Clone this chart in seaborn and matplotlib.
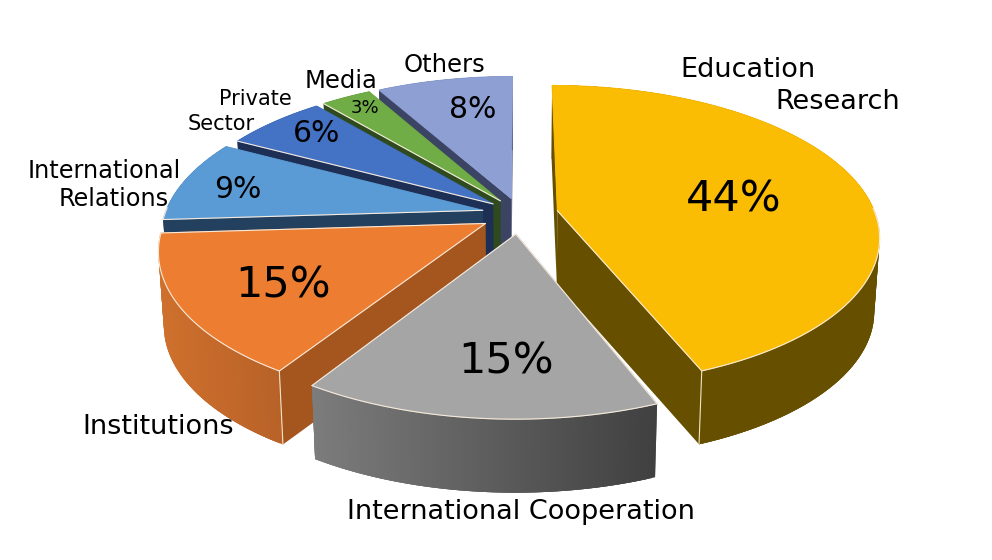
# 3D style exploded pie chart, drawn by hand because matplotlib has no 3D pie
import numpy as np
import matplotlib
matplotlib.use("Agg")
import matplotlib.pyplot as plt
from matplotlib.patches import Polygon
import seaborn as sns

# DATA
categories = ["Education\nResearch", "International Cooperation", "Institutions",
              "International\nRelations", "Private\nSector", "Media", "Others"]
shares = [44, 15, 15, 8.8, 6.1, 3, 8.1]

# colours of the top face and of the straight side faces
top_colors = ["#FBBC04", "#A5A5A5", "#ED7D31", "#5B9BD5", "#4472C4", "#70AD47", "#8E9FD3"]
side_colors = ["#665000", "#5a5a5a", "#A5561F", "#23405F", "#1E2F55", "#2F4A1E", "#3C4464"]
rim_left = ["#665000", "#7C7C7C", "#CF702D", "#23405F", "#1E2F55", "#2F4A1E", "#3C4464"]
rim_right = ["#665000", "#404040", "#B86228", "#23405F", "#1E2F55", "#2F4A1E", "#3C4464"]
draw_order = [6, 5, 4, 3, 2, 0, 1]

# layout of the pie in pixels
cx, cy = 520, 214
rad_x, rad_y = 318, 147
persp = 0.165
explode = [0.12, 0.135, 0.125, 0.12, 0.11, 0.11, 0.11]
depth = 73.5
shrink = 0.985

# text layout, one entry per text line of the labels
pct_pos = [(734, 200), (506, 361), (283, 286), (238, 189), (317, 133), (365, 108), (473, 110)]
pct_size = [31, 31, 31, 21.5, 21.5, 13, 21.5]
label_pos = [[(680, 70), (775, 102)], [(347, 512)], [(82, 427)],
             [(28, 171), (59, 199)], [(219, 99), (188, 124)], [(305, 81)], [(404, 65)]]
label_size = [19.5, 19.5, 19.5, 17.3, 15, 17.5, 17.5]

sns.set_theme(style="white")
plt.rcParams["font.family"] = ["DejaVu Sans"]

fig = plt.figure(figsize=(9.92, 5.6), dpi=100)
ax = fig.add_axes([0, 0, 1, 1])
ax.set_xlim(0, 992)
ax.set_ylim(560, 0)
ax.axis("off")


def project(t, r, bis, e):
    # t is the clockwise angle from 12 o'clock, bis the slice middle for the explode shift
    u = r * np.sin(t) + e * np.sin(bis)
    v = -r * np.cos(t) - e * np.cos(bis)
    w = 1 - persp * v
    return np.column_stack([cx + rad_x * u / w, cy + rad_y * v / w])


def lower(pts):
    # the same points on the underside of the pie
    out = pts.copy()
    out[:, 0] = cx + (pts[:, 0] - cx) * shrink
    out[:, 1] = pts[:, 1] + depth
    return out


def mix(c1, c2, f):
    a = np.array(matplotlib.colors.to_rgb(c1))
    b = np.array(matplotlib.colors.to_rgb(c2))
    return a + (b - a) * f


edges = np.cumsum([0] + shares) / sum(shares) * 2 * np.pi
light = "#F6EADB"

for i in draw_order:
    t0, t1 = edges[i], edges[i + 1]
    bis = (t0 + t1) / 2
    ts = np.linspace(t0, t1, 90)
    arc = project(ts, np.ones_like(ts), bis, explode[i])
    apex = project(np.array([bis]), np.array([0.0]), bis, explode[i])
    low = lower(arc)
    low_apex = lower(apex)

    # straight faces
    for a in (arc[0:1], arc[-1:]):
        face = np.vstack([apex, a, lower(a), low_apex])
        ax.add_patch(Polygon(face, closed=True, fc=side_colors[i], ec="none"))

    # curved rim, each strip overlaps the next one so no seams show
    xmin, xmax = arc[:, 0].min(), arc[:, 0].max()
    for k in range(len(ts) - 1):
        f = ((arc[k, 0] + arc[k + 1, 0]) / 2 - xmin) / (xmax - xmin)
        col = mix(rim_left[i], rim_right[i], f)
        quad = np.vstack([arc[k:k + 4], low[k:k + 4][::-1]])
        ax.add_patch(Polygon(quad, closed=True, fc=col, ec="none"))

    # top face, the edge in the same colour hides slivers of the faces behind it
    top = np.vstack([apex, arc])
    ax.add_patch(Polygon(top, closed=True, fc=top_colors[i], ec=top_colors[i], lw=0.7, zorder=1))

    # thin light lines on the front arc and the lower straight edges
    front = -np.cos(ts) > -0.02
    ax.plot(arc[front, 0], arc[front, 1], color=light, lw=0.8, zorder=1)
    if i != 0 and i != 6:
        line = np.vstack([apex, arc[0:1]])
        ax.plot(line[:, 0], line[:, 1], color=light, lw=0.8, zorder=1)
    if i in (0, 1, 2):
        line = np.vstack([apex, arc[-1:]])
        ax.plot(line[:, 0], line[:, 1], color=light, lw=0.8, zorder=1)

    # light line down the visible corners
    if i in (0, 2):
        corner = arc[-1:] if i == 0 else arc[0:1]
        both = np.vstack([corner, lower(corner)])
        ax.plot(both[:, 0], both[:, 1], color="#F3E2C8", lw=0.8, zorder=1)

for i in range(len(shares)):
    px, py = pct_pos[i]
    ax.text(px, py, f"{shares[i]:.0f}%", fontsize=pct_size[i], ha="center", va="center", color="black")
    for line, (lx, ly) in zip(categories[i].split("\n"), label_pos[i]):
        ax.text(lx, ly, line, fontsize=label_size[i], ha="left", va="center", color="black")

fig.savefig("out.png", dpi=100, facecolor="white")
